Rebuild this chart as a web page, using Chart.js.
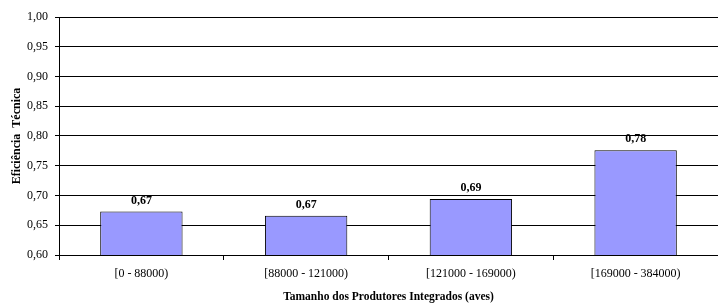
<!DOCTYPE html>
<html>
<head>
<meta charset="utf-8">
<script src="https://cdn.jsdelivr.net/npm/chart.js@4/dist/chart.umd.min.js"></script>
<style>
  html, body { margin: 0; padding: 0; background: #fff; }
  #wrap { width: 718px; height: 304px; }
</style>
</head>
<body>
<div id="wrap"><canvas id="chart"></canvas></div>
<script>
const categories = ['[0 - 88000)', '[88000 - 121000)', '[121000 - 169000)', '[169000 - 384000)'];
const efficiency = [0.673, 0.666, 0.694, 0.776];
const yTitle = 'Eficiência  Técnica';
const xTitle = 'Tamanho dos Produtores Integrados (aves)';

const serif = '"Liberation Serif", "Times New Roman", serif';
const comma = v => v.toFixed(2).replace('.', ',');

// values drawn above each bar
const barLabels = {
  id: 'barLabels',
  afterDatasetsDraw(chart) {
    const ctx = chart.ctx;
    const meta = chart.getDatasetMeta(0);
    ctx.save();
    ctx.font = 'bold 12px ' + serif;
    ctx.fillStyle = '#000';
    ctx.textAlign = 'center';
    ctx.textBaseline = 'bottom';
    meta.data.forEach((bar, i) => {
      ctx.fillText(comma(chart.data.datasets[0].data[i]), bar.x, bar.y - 5);
    });
    ctx.restore();
  }
};

new Chart(document.getElementById('chart').getContext('2d'), {
  type: 'bar',
  data: {
    labels: categories,
    datasets: [{
      data: efficiency,
      backgroundColor: '#9999ff',
      borderColor: '#000',
      borderWidth: 1,
      borderSkipped: false,
      barPercentage: 0.5,
      categoryPercentage: 1
    }]
  },
  options: {
    responsive: true,
    maintainAspectRatio: false,
    animation: false,
    layout: { padding: { top: 17, right: 0, left: 0, bottom: 0 } },
    plugins: { legend: { display: false }, tooltip: { enabled: false } },
    scales: {
      x: {
        offset: true,
        grid: { offset: true, drawOnChartArea: false, drawTicks: true, tickLength: 5, color: '#000' },
        border: { color: '#000', width: 1 },
        ticks: { color: '#000', font: { family: serif, size: 12 }, padding: 7, maxRotation: 0 },
        title: { display: true, text: xTitle, color: '#000', font: { family: serif, size: 11.5, weight: 'bold' }, padding: { top: 6, bottom: 0 } },
        afterFit(scale) { scale.height = 49; }
      },
      y: {
        min: 0.6,
        max: 1.0,
        ticks: { stepSize: 0.05, color: '#000', font: { family: serif, size: 12 }, padding: 7, callback: v => comma(v) },
        grid: { color: '#000', lineWidth: 1, tickLength: 4 },
        border: { color: '#000', width: 1 },
        title: { display: true, text: yTitle, color: '#000', font: { family: serif, size: 12, weight: 'bold' }, padding: { top: 10, bottom: 4 } },
        afterFit(scale) { scale.width = 59; }
      }
    }
  },
  plugins: [barLabels]
});
</script>
</body>
</html>
